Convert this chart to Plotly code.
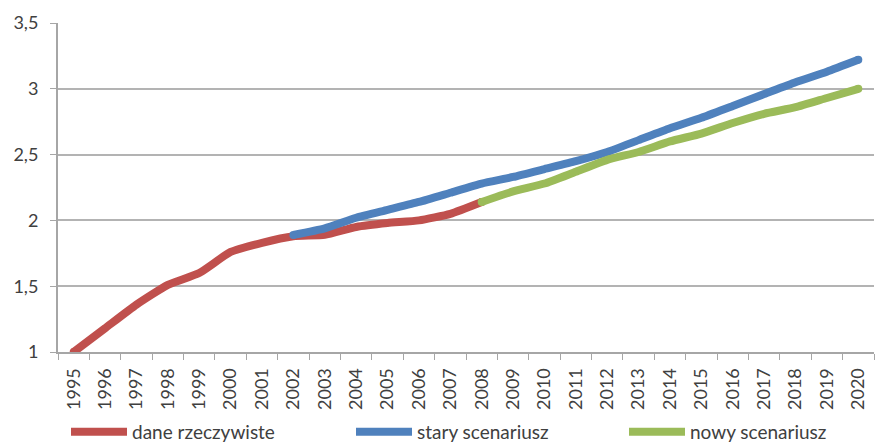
import plotly.graph_objects as go

years = [str(y) for y in range(1995, 2021)]

# actual data 1995-2008
real_years = years[:14]
real_vals = [1.00, 1.18, 1.36, 1.51, 1.60, 1.76, 1.83, 1.88, 1.89, 1.95, 1.98, 2.00, 2.05, 2.14]

# old scenario 2002-2020
old_years = years[7:]
old_vals = [1.89, 1.94, 2.02, 2.08, 2.14, 2.21, 2.28, 2.33, 2.39, 2.45, 2.52, 2.61, 2.70, 2.78,
            2.87, 2.96, 3.05, 3.13, 3.22]

# new scenario 2008-2020
new_years = years[13:]
new_vals = [2.14, 2.22, 2.28, 2.37, 2.46, 2.52, 2.60, 2.66, 2.74, 2.81, 2.86, 2.93, 3.00]

names = ["dane rzeczywiste", "stary scenariusz", "nowy scenariusz"]
colors = ["#C0504D", "#4F81BD", "#9BBB59"]
legend_ids = ["legend", "legend2", "legend3"]
legend_x = [66, 351, 624]  # left edge of each legend entry, px

font_family = "Lato, Carlito, Calibri, sans-serif"
text_color = "#404040"
line_w = 8

fig = go.Figure()
for xs, ys, name, col, lid in zip([real_years, old_years, new_years],
                                  [real_vals, old_vals, new_vals], names, colors, legend_ids):
    fig.add_trace(go.Scatter(
        x=xs, y=ys, name=name, mode="lines", legend=lid,
        line=dict(color=col, width=line_w, shape="spline", smoothing=0.5),
    ))
    # rounded line ends
    fig.add_trace(go.Scatter(
        x=[xs[0], xs[-1]], y=[ys[0], ys[-1]], mode="markers", showlegend=False,
        hoverinfo="skip", marker=dict(color=col, size=line_w, line=dict(width=0)),
    ))

legend_style = dict(
    orientation="h", xanchor="left",
    xref="container", yref="container", y=10 / 442, yanchor="middle",
    font=dict(size=19, color=text_color),
    itemwidth=56, bgcolor="rgba(0,0,0,0)",
)

fig.update_layout(
    width=877, height=442,
    margin=dict(l=58, r=3, t=23, b=90, autoexpand=False),
    paper_bgcolor="white", plot_bgcolor="white",
    separators=", ",
    font=dict(family=font_family, color=text_color, size=15),
    showlegend=True,
    legend=dict(legend_style, x=legend_x[0] / 877),
    legend2=dict(legend_style, x=legend_x[1] / 877),
    legend3=dict(legend_style, x=legend_x[2] / 877),
)

fig.update_xaxes(
    type="category", categoryorder="array", categoryarray=years,
    range=[-0.5, len(years) - 0.5],
    tickson="boundaries", ticks="outside", ticklen=6, tickcolor="#A6A6A6",
    showline=True, linecolor="#A6A6A6", linewidth=2,
    showgrid=False, tickangle=-90,
    tickfont=dict(size=18, color=text_color),
    ticklabelstandoff=7,
)
fig.update_yaxes(
    range=[1, 3.5], dtick=0.5, tick0=1,
    ticks="outside", ticklen=6, tickcolor="#A6A6A6",
    showline=True, linecolor="#A6A6A6", linewidth=2,
    showgrid=True, gridcolor="#B3B3B3", gridwidth=2,
    zeroline=False,
    tickfont=dict(size=18, color=text_color),
    ticklabelstandoff=8,
)

fig.write_html("out.html")
